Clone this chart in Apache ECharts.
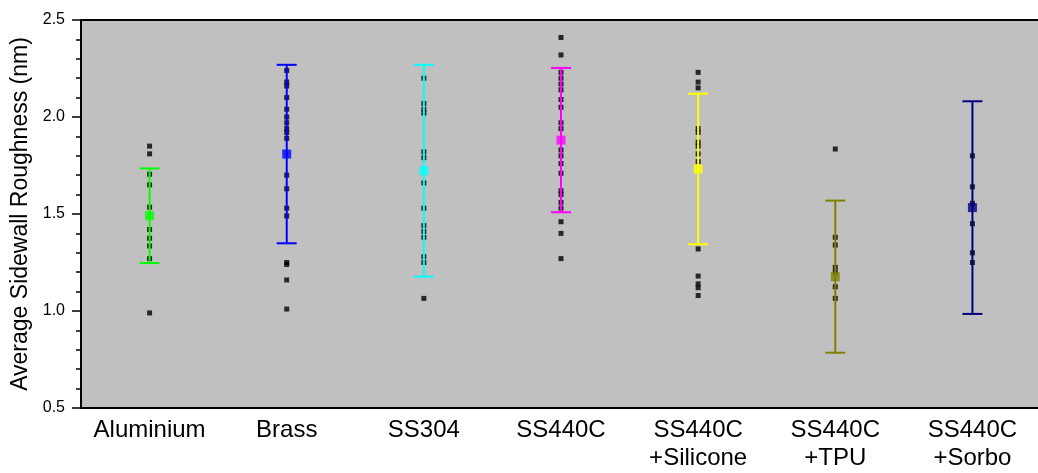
<!DOCTYPE html>
<html>
<head>
<meta charset="utf-8">
<script src="https://cdn.jsdelivr.net/npm/echarts@6/dist/echarts.min.js"></script>
<style>
  html, body { margin: 0; padding: 0; background: #ffffff; }
  #chart { width: 1038px; height: 473px; }
</style>
</head>
<body>
<div id="chart"></div>
<script>
// Sample groups along the x axis
const categories = ['Aluminium', 'Brass', 'SS304', 'SS440C', 'SS440C\n+Silicone', 'SS440C\n+TPU', 'SS440C\n+Sorbo'];

// Individual roughness measurements (nm) per group
const aluminiumPts = [1.85, 1.81, 1.705, 1.65, 1.535, 1.42, 1.375, 1.335, 1.27, 0.99];
const brassPts = [2.24, 2.18, 2.16, 2.10, 2.04, 2.00, 1.97, 1.94, 1.92, 1.89, 1.70, 1.63, 1.53, 1.49, 1.25, 1.24, 1.16, 1.01];
const ss304Pts = [2.20, 2.07, 2.04, 2.02, 1.82, 1.79, 1.66, 1.53, 1.44, 1.41, 1.38, 1.28, 1.25, 1.065];
const ss440cPts = [2.41, 2.32, 2.23, 2.20, 2.17, 2.14, 2.09, 2.05, 1.97, 1.94, 1.83, 1.80, 1.76, 1.71, 1.62, 1.60, 1.56, 1.53, 1.46, 1.40, 1.27];
const siliconePts = [2.23, 2.18, 2.15, 1.94, 1.92, 1.87, 1.85, 1.81, 1.77, 1.32, 1.18, 1.14, 1.12, 1.08];
const tpuPts = [1.835, 1.38, 1.34, 1.225, 1.20, 1.125, 1.065];
const sorboPts = [1.80, 1.64, 1.555, 1.45, 1.30, 1.25];

// Group means and standard deviations (nm)
const means = [1.491, 1.809, 1.723, 1.881, 1.732, 1.177, 1.533];
const stdDevs = [0.244, 0.46, 0.546, 0.372, 0.388, 0.392, 0.548];

// Y axis tick values
const yTicks = [0.5, 1.0, 1.5, 2.0, 2.5];

const groupColors = ['#00ff00', '#0000ff', '#00ffff', '#ff00ff', '#ffff00', '#808000', '#000080'];

const allPts = [aluminiumPts, brassPts, ss304Pts, ss440cPts, siliconePts, tpuPts, sorboPts];
const rawData = [];
allPts.forEach((arr, i) => arr.forEach(v => rawData.push([i, v])));

const errData = means.map((m, i) => [i, m - stdDevs[i], m + stdDevs[i]]);
const meanData = means.map((m, i) => ({ value: [i, m], itemStyle: { color: groupColors[i] } }));

const chart = echarts.init(document.getElementById('chart'), null, { renderer: 'canvas' });

const FONT = '"Liberation Sans", Arial, sans-serif';

chart.setOption({
  animation: false,
  backgroundColor: '#ffffff',
  grid: {
    left: 81,
    right: -3,
    top: 20,
    bottom: 65,
    outerBoundsMode: 'none',
    containLabel: false,
    show: true,
    backgroundColor: '#c0c0c0',
    borderColor: '#000000',
    borderWidth: 2
  },
  xAxis: {
    type: 'category',
    data: categories,
    boundaryGap: true,
    axisLine: { show: true, lineStyle: { color: '#000000', width: 2 } },
    axisTick: { show: false },
    splitLine: { show: false },
    axisLabel: {
      interval: 0,
      margin: 8,
      color: '#000000',
      fontFamily: FONT,
      fontSize: 24,
      lineHeight: 28
    }
  },
  yAxis: {
    type: 'value',
    min: yTicks[0],
    max: yTicks[yTicks.length - 1],
    interval: 0.5,
    name: 'Average Sidewall Roughness (nm)',
    nameLocation: 'middle',
    nameGap: 47,
    nameTextStyle: { color: '#000000', fontFamily: FONT, fontSize: 23 },
    axisLine: { show: true, lineStyle: { color: '#000000', width: 2 } },
    axisTick: { show: true, inside: false, length: 9, lineStyle: { color: '#000000', width: 1.5 } },
    minorTick: { show: true, splitNumber: 5, length: 5, lineStyle: { color: '#000000', width: 1.5 } },
    splitLine: { show: false },
    minorSplitLine: { show: false },
    axisLabel: {
      margin: 16,
      color: '#000000',
      fontFamily: FONT,
      fontSize: 16,
      formatter: v => v.toFixed(1)
    }
  },
  series: [
    {
      name: 'measurements',
      type: 'scatter',
      data: rawData,
      symbol: 'rect',
      symbolSize: 5,
      itemStyle: { color: '#000000' },
      z: 2,
      silent: true
    },
    {
      name: 'std dev',
      type: 'custom',
      data: errData,
      z: 3,
      silent: true,
      renderItem: function (params, api) {
        const i = api.value(0);
        const top = api.coord([i, api.value(2)]);
        const bot = api.coord([i, api.value(1)]);
        const c = groupColors[params.dataIndex];
        const half = 10;
        const style = { stroke: c, lineWidth: 2 };
        return {
          type: 'group',
          children: [
            { type: 'line', shape: { x1: top[0], y1: top[1], x2: bot[0], y2: bot[1] }, style: style },
            { type: 'line', shape: { x1: top[0] - half, y1: top[1], x2: top[0] + half, y2: top[1] }, style: style },
            { type: 'line', shape: { x1: bot[0] - half, y1: bot[1], x2: bot[0] + half, y2: bot[1] }, style: style }
          ]
        };
      }
    },
    {
      name: 'mean',
      type: 'scatter',
      data: meanData,
      symbol: 'rect',
      symbolSize: 9,
      z: 4,
      silent: true
    }
  ]
});
</script>
</body>
</html>
